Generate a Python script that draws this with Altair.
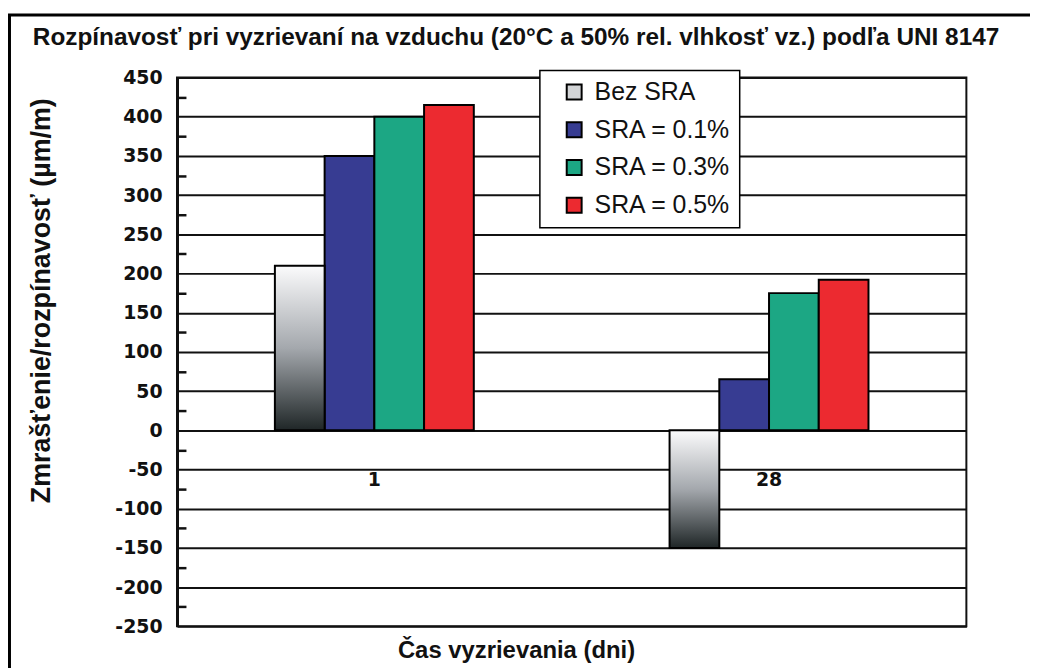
import altair as alt
import pandas as pd

# ---- data ----
days = ["1", "28"]
series = ["Bez SRA", "SRA = 0.1%", "SRA = 0.3%", "SRA = 0.5%"]
bez_sra = [210, -150]
sra_01 = [350, 65]
sra_03 = [400, 175]
sra_05 = [415, 192]
colors = ["#d2d4d6", "#373c92", "#1ca784", "#ec2a30"]
y_ticks = list(range(-250, 451, 50))
minor_ticks = list(range(-225, 451, 50))

chart_title = "Rozpínavosť pri vyzrievaní na vzduchu (20°C a 50% rel. vlhkosť vz.) podľa UNI 8147"
x_title = "Čas vyzrievania (dni)"
y_title = "Zmrašťenie/rozpínavosť  (µm/m)"

rows = []
for s, vals in zip(series, [bez_sra, sra_01, sra_03, sra_05]):
    for d, v in zip(days, vals):
        rows.append({"day": d, "series": s, "value": v})
df = pd.DataFrame(rows)

W, H = 794, 552
x_scale = alt.Scale(domain=days, paddingInner=0.496, paddingOuter=0.248)
xo_scale = alt.Scale(domain=series, paddingInner=0, paddingOuter=0)
y_scale = alt.Scale(domain=[-250, 450], nice=False, zero=False)

grad = alt.Gradient(
    gradient="linear",
    stops=[
        alt.GradientStop(color="#fbfbfc", offset=0),
        alt.GradientStop(color="#a4a8ad", offset=0.5),
        alt.GradientStop(color="#1f2627", offset=1),
    ],
    x1=0, x2=0, y1=0, y2=1,
)

bars = alt.Chart(df).transform_filter(alt.datum.series != "Bez SRA").mark_bar(
    stroke="black", strokeWidth=2
).encode(
    x=alt.X("day:N", scale=x_scale, axis=alt.Axis(
        title=x_title, titleX=341, titleY=221, titleAlign="center",
        titleBaseline="middle", titleAngle=0, titleFont="Liberation Sans",
        titleFontSize=24, titleFontWeight="bold", titleColor="#111",
        labelAngle=0, labelFont="DejaVu Sans", labelFontWeight="bold",
        labelFontSize=19, labelColor="#111", labelPadding=40,
        ticks=False, domain=False, grid=False, offset=-197,
    )),
    xOffset=alt.XOffset("series:N", scale=xo_scale),
    y=alt.Y("value:Q", scale=y_scale, stack=None, axis=alt.Axis(
        values=y_ticks, grid=True, gridColor="#111", gridWidth=2,
        domain=True, domainColor="#111", domainWidth=3, ticks=False,
        labelPadding=15, labelFont="DejaVu Sans", labelFontWeight="bold",
        labelFontSize=19, labelColor="#111", labelExpr="'' + datum.value",
        title=y_title, titleX=-136, titleY=224, titleAngle=270,
        titleAlign="center", titleBaseline="middle",
        titleFont="Liberation Sans", titleFontSize=27,
        titleFontWeight="bold", titleColor="#111",
    )),
    y2=alt.datum(0),
    color=alt.Color("series:N", scale=alt.Scale(domain=series, range=colors),
                    legend=alt.Legend(
                        title=None, orient="none", legendX=365, legendY=-7,
                        fillColor="white", strokeColor="black", padding=9,
                        symbolOffset=13, symbolType="square", symbolSize=225,
                        symbolStrokeColor="black", symbolStrokeWidth=2,
                        labelFont="Liberation Sans", labelFontSize=25,
                        labelOffset=8, rowPadding=12, labelColor="#111",
                    )),
)

grad_bars = alt.Chart(df).transform_filter(alt.datum.series == "Bez SRA").mark_bar(
    color=grad, stroke="black", strokeWidth=2
).encode(
    x=alt.X("day:N", scale=x_scale, axis=None),
    xOffset=alt.XOffset("series:N", scale=xo_scale),
    y=alt.Y("value:Q", scale=y_scale, stack=None, axis=alt.Axis(
        orient="right", offset=-W, values=minor_ticks, labels=False,
        domain=False, grid=False, ticks=True, tickSize=9, tickWidth=2.5,
        tickColor="#111", title=None,
    )),
    y2=alt.datum(0),
)

one = pd.DataFrame({"a": [0]})
frame_left = alt.Chart(one).mark_rule(color="black", strokeWidth=3).encode(
    x=alt.value(-168.5), y=alt.value(-63), y2=alt.value(H + 60)
)
frame_top = alt.Chart(one).mark_rule(color="black", strokeWidth=3).encode(
    x=alt.value(-170), x2=alt.value(W + 70), y=alt.value(-63)
)

chart = alt.layer(bars, grad_bars, frame_left, frame_top).resolve_axis(
    x="independent", y="independent"
).properties(
    width=W, height=H,
    autosize=alt.AutoSizeParams(type="none"),
    padding={"left": 170, "top": 68, "right": 64, "bottom": 40},
    background="white",
    title=alt.TitleParams(
        text=chart_title, font="Liberation Sans", fontSize=24.5,
        fontWeight="bold", anchor="middle", frame="group", dx=-56,
        offset=-37, color="#111",
    ),
).configure_view(stroke="#111", strokeWidth=2).configure_legend(strokeWidth=1.5)

chart.save("out.html", embed_options={"renderer": "svg", "actions": False})
